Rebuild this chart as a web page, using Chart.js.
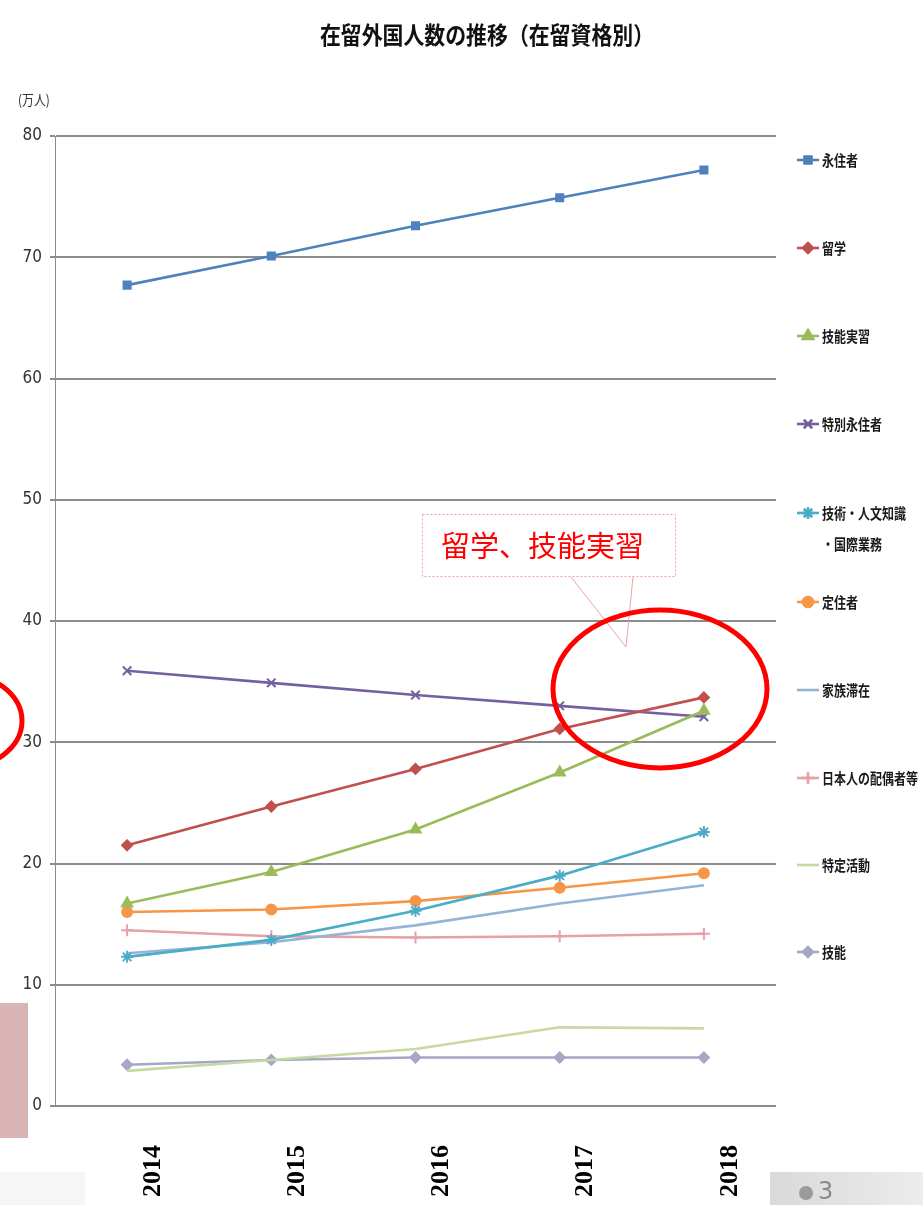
<!DOCTYPE html>
<html lang="ja">
<head>
<meta charset="utf-8">
<title>在留外国人数の推移（在留資格別）</title>
<script src="https://cdn.jsdelivr.net/npm/chart.js@4/dist/chart.umd.min.js"></script>
<style>
  html, body { margin: 0; padding: 0; background: #ffffff; }
  #wrap { width: 923px; height: 1205px; position: relative; }
</style>
</head>
<body>
<div id="wrap"><canvas id="c" width="923" height="1205"></canvas></div>
<script>
// Years on the x axis
const years = ['2014', '2015', '2016', '2017', '2018'];

// Residents by status of residence (万人)
const eijusha        = [67.7, 70.1, 72.6, 74.9, 77.2]; // 永住者
const ryugaku        = [21.5, 24.7, 27.8, 31.1, 33.7]; // 留学
const ginoJisshu     = [16.7, 19.3, 22.8, 27.5, 32.6]; // 技能実習
const tokubetsuEiju  = [35.9, 34.9, 33.9, 33.0, 32.1]; // 特別永住者
const gijutsuJinbun  = [12.3, 13.7, 16.1, 19.0, 22.6]; // 技術・人文知識・国際業務
const teijusha       = [16.0, 16.2, 16.9, 18.0, 19.2]; // 定住者
const kazokuTaizai   = [12.6, 13.5, 14.9, 16.7, 18.2]; // 家族滞在
const haigusha       = [14.5, 14.0, 13.9, 14.0, 14.2]; // 日本人の配偶者等
const tokuteiKatsudo = [ 2.9,  3.8,  4.7,  6.5,  6.4]; // 特定活動
const gino           = [ 3.4,  3.8,  4.0,  4.0,  4.0]; // 技能

// Series names and the y tick range
const seriesNames = ['永住者', '留学', '技能実習', '特別永住者', '技術・人文知識・国際業務',
                     '定住者', '家族滞在', '日本人の配偶者等', '特定活動', '技能'];
const yMin = 0, yMax = 80, yStep = 10;

function series(label, data, color, pointStyle, radius) {
  return {
    label, data,
    borderColor: color,
    backgroundColor: color,
    pointBackgroundColor: color,
    pointBorderColor: color,
    pointStyle: pointStyle || false,
    pointRadius: pointStyle ? (radius || 5) : 0,
    pointHoverRadius: pointStyle ? (radius || 5) : 0,
    pointBorderWidth: 2,
    borderWidth: 2.6,
    tension: 0,
    fill: false
  };
}

const datasets = [
  series(seriesNames[0], eijusha,        '#4f81bd', 'rect', 5),
  series(seriesNames[1], ryugaku,        '#c0504d', 'rectRot', 5),
  series(seriesNames[2], ginoJisshu,     '#9bbb59', 'triangle', 6),
  series(seriesNames[3], tokubetsuEiju,  '#7460a0', 'crossRot', 6),
  series(seriesNames[4], gijutsuJinbun,  '#4aacc6', 'star', 6),
  series(seriesNames[5], teijusha,       '#f79646', 'circle', 5),
  series(seriesNames[6], kazokuTaizai,   '#95b3d7', null),
  series(seriesNames[7], haigusha,       '#e6a0a6', 'cross', 6),
  series(seriesNames[8], tokuteiKatsudo, '#c6d9a0', null),
  series(seriesNames[9], gino,           '#a6a6c6', 'rectRot', 5)
];

// Right-hand legend rows (baseline centres) and marker/text offsets
const legendRowY = [160, 248, 336, 424, 513, 602, 690, 778, 865, 952];
const legendLines = [['永住者'], ['留学'], ['技能実習'], ['特別永住者'], ['技術・人文知識', '・国際業務'],
                     ['定住者'], ['家族滞在'], ['日本人の配偶者等'], ['特定活動'], ['技能']];

function drawMarker(ctx, style, r, x, y) {
  if (!style) return;
  if (Chart.helpers && Chart.helpers.drawPoint) {
    Chart.helpers.drawPoint(ctx, { pointStyle: style, radius: r, borderWidth: 2, rotation: 0 }, x, y);
  }
}

const decor = {
  id: 'decor',
  beforeDraw(chart) {
    const ctx = chart.ctx;
    ctx.save();
    ctx.fillStyle = '#ffffff';
    ctx.fillRect(0, 0, chart.width, chart.height);
    ctx.restore();
  },
  afterDatasetsDraw(chart) {
    const ctx = chart.ctx;
    ctx.save();
    // callout box
    ctx.fillStyle = '#ffffff';
    ctx.fillRect(422, 514, 254, 63);
    ctx.strokeStyle = '#f2a0a0';
    ctx.lineWidth = 1;
    ctx.setLineDash([2, 2]);
    ctx.strokeRect(422.5, 514.5, 253, 62);
    ctx.setLineDash([]);
    ctx.beginPath();
    ctx.moveTo(571, 577);
    ctx.lineTo(626, 647);
    ctx.lineTo(633, 577);
    ctx.stroke();
    ctx.fillStyle = '#ff0000';
    ctx.font = '29px "Noto Sans CJK JP", sans-serif';
    ctx.textAlign = 'left';
    ctx.textBaseline = 'middle';
    ctx.fillText('留学、技能実習', 441, 546);

    // highlight rings
    ctx.strokeStyle = '#ff0000';
    ctx.lineWidth = 5;
    ctx.beginPath();
    ctx.ellipse(660, 689, 107, 79, 0, 0, Math.PI * 2);
    ctx.stroke();
    ctx.beginPath();
    ctx.ellipse(-45, 721, 67, 49, 0, 0, Math.PI * 2);
    ctx.stroke();
    ctx.restore();
  },
  afterDraw(chart) {
    const ctx = chart.ctx;
    ctx.save();

    // title
    ctx.fillStyle = '#111111';
    ctx.textBaseline = 'middle';
    ctx.textAlign = 'center';
    ctx.save();
    ctx.translate(487, 35);
    ctx.scale(0.87, 1);
    ctx.font = 'bold 24px "Noto Sans CJK JP", sans-serif';
    ctx.fillText('在留外国人数の推移（在留資格別）', 0, 0);
    ctx.restore();

    // unit label
    ctx.save();
    ctx.translate(18, 100);
    ctx.scale(0.85, 1);
    ctx.textAlign = 'left';
    ctx.fillStyle = '#333333';
    ctx.font = '14px "Noto Sans CJK JP", sans-serif';
    ctx.fillText('(万人)', 0, 0);
    ctx.restore();

    // legend
    chart.data.datasets.forEach((ds, i) => {
      const y = legendRowY[i];
      ctx.strokeStyle = ds.borderColor;
      ctx.fillStyle = ds.borderColor;
      ctx.lineWidth = 2.6;
      ctx.beginPath();
      ctx.moveTo(797, y);
      ctx.lineTo(819, y);
      ctx.stroke();
      drawMarker(ctx, ds.pointStyle, ds.pointRadius, 808, y);
      ctx.fillStyle = '#1a1a1a';
      legendLines[i].forEach((txt, k) => {
        ctx.save();
        ctx.translate(822, y + k * 31);
        ctx.scale(0.8, 1);
        ctx.textAlign = 'left';
        ctx.font = 'bold 15px "Noto Sans CJK JP", sans-serif';
        ctx.fillText(txt, 0, 0);
        ctx.restore();
      });
    });

    // slide decorations
    ctx.fillStyle = '#d8b4b4';
    ctx.fillRect(0, 1003, 28, 135);
    ctx.fillStyle = '#f6f6f6';
    ctx.fillRect(0, 1172, 85, 33);
    const g = ctx.createLinearGradient(770, 0, 923, 0);
    g.addColorStop(0, '#d9d9d9');
    g.addColorStop(1, '#ececec');
    ctx.fillStyle = g;
    ctx.fillRect(770, 1172, 153, 33);
    ctx.fillStyle = '#9a9a9a';
    ctx.beginPath();
    ctx.arc(806, 1193, 7, 0, Math.PI * 2);
    ctx.fill();
    ctx.fillStyle = '#8a8a8a';
    ctx.textAlign = 'left';
    ctx.textBaseline = 'middle';
    ctx.font = '24px "Liberation Sans Narrow", "DejaVu Sans", sans-serif';
    ctx.fillText('3', 818, 1193);
    ctx.restore();
  }
};

new Chart(document.getElementById('c'), {
  type: 'line',
  data: { labels: years, datasets },
  options: {
    responsive: false,
    devicePixelRatio: 1,
    animation: false,
    layout: { padding: { top: 136, right: 147, bottom: 0, left: 0 } },
    plugins: {
      legend: { display: false },
      title: { display: false },
      tooltip: { enabled: false }
    },
    scales: {
      x: {
        type: 'category',
        offset: true,
        grid: { display: false, drawTicks: false },
        border: { display: false },
        ticks: {
          autoSkip: false,
          minRotation: 90,
          maxRotation: 90,
          padding: 39,
          labelOffset: 26,
          color: '#000000',
          font: { family: '"Liberation Serif", "DejaVu Serif", serif', size: 26, weight: 'bold' }
        },
        afterFit(scale) { scale.height = 99; }
      },
      y: {
        min: yMin,
        max: yMax,
        ticks: {
          stepSize: yStep,
          padding: 8,
          color: '#333333',
          font: { family: '"Liberation Sans Narrow", "DejaVu Sans Condensed", "Noto Sans", sans-serif', size: 17 }
        },
        grid: { color: '#8c8c8c', lineWidth: 2, tickLength: 5, drawTicks: true },
        border: { color: '#8c8c8c', width: 1 },
        afterFit(scale) { scale.width = 55; }
      }
    }
  },
  plugins: [decor]
});
</script>
</body>
</html>
